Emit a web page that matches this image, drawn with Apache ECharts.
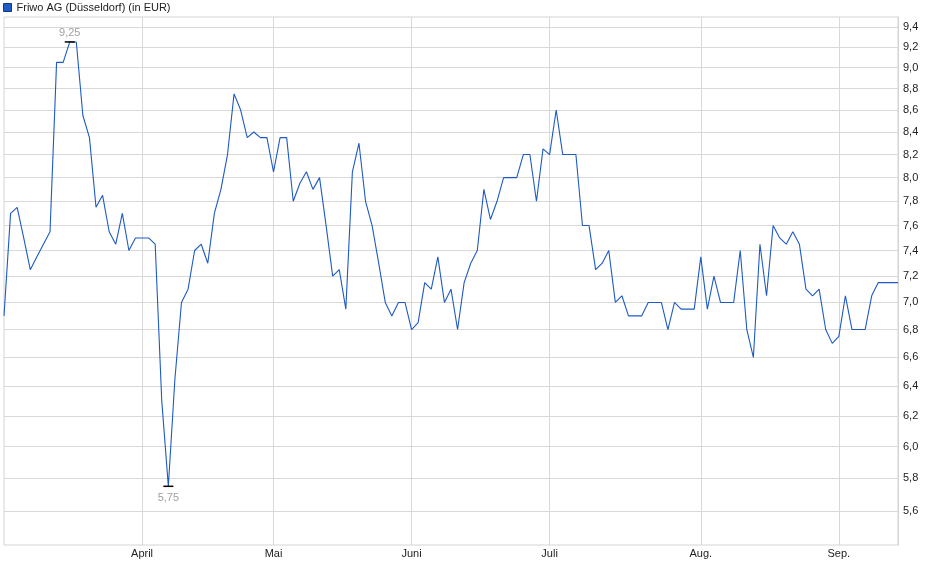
<!DOCTYPE html>
<html>
<head>
<meta charset="utf-8">
<script src="https://cdn.jsdelivr.net/npm/echarts@6/dist/echarts.min.js"></script>
<style>
html,body{margin:0;padding:0;background:#fff;}
#c{width:940px;height:579px;}
</style>
</head>
<body>
<div id="c"></div>
<script>
// Daily closing prices (trading days, 3 Mar 2025 – 12 Sep 2025)
const prices = [
  6.9, 7.7, 7.75, 7.5, 7.25, 7.35, 7.45, 7.55, 9.05, 9.05,
  9.25, 9.25, 8.55, 8.35, 7.75, 7.85, 7.55, 7.45, 7.7, 7.4,
  7.5, 7.5, 7.5, 7.45, 6.3, 5.75, 6.45, 7.0, 7.1, 7.4,
  7.45, 7.3, 7.7, 7.9, 8.2, 8.75, 8.6, 8.35, 8.4, 8.35,
  8.35, 8.05, 8.35, 8.35, 7.8, 7.95, 8.05, 7.9, 8.0, 7.6,
  7.2, 7.25, 6.95, 8.05, 8.3, 7.8, 7.6, 7.3, 7.0, 6.9,
  7.0, 7.0, 6.8, 6.85, 7.15, 7.1, 7.35, 7.0, 7.1, 6.8,
  7.15, 7.3, 7.4, 7.9, 7.65, 7.8, 8.0, 8.0, 8.0, 8.2,
  8.2, 7.8, 8.25, 8.2, 8.6, 8.2, 8.2, 8.2, 7.6, 7.6,
  7.25, 7.3, 7.4, 7.0, 7.05, 6.9, 6.9, 6.9, 7.0, 7.0,
  7.0, 6.8, 7.0, 6.95, 6.95, 6.95, 7.35, 6.95, 7.2, 7.0,
  7.0, 7.0, 7.4, 6.8, 6.6, 7.45, 7.05, 7.6, 7.5, 7.45,
  7.55, 7.45, 7.1, 7.05, 7.1, 6.8, 6.7, 6.75, 7.05, 6.8,
  6.8, 6.8, 7.05, 7.15, 7.15, 7.15, 7.15
];
const startDate = '2025-03-03';
const holidays = ['2025-04-18', '2025-04-21', '2025-05-01'];
const monthNames = ['Jan.', 'Feb.', 'März', 'April', 'Mai', 'Juni', 'Juli', 'Aug.', 'Sep.', 'Okt.', 'Nov.', 'Dez.'];
const yTicks = [5.6, 5.8, 6.0, 6.2, 6.4, 6.6, 6.8, 7.0, 7.2, 7.4, 7.6, 7.8, 8.0, 8.2, 8.4, 8.6, 8.8, 9.0, 9.2, 9.4];
const seriesName = 'Friwo AG (Düsseldorf) (in EUR)';

// Build trading-day categories
function pad(n){return (n<10?'0':'')+n;}
const dates = [];
{
  const d = new Date(startDate + 'T12:00:00Z');
  while (dates.length < prices.length) {
    const s = d.getUTCFullYear() + '-' + pad(d.getUTCMonth()+1) + '-' + pad(d.getUTCDate());
    const wd = d.getUTCDay();
    if (wd !== 0 && wd !== 6 && holidays.indexOf(s) < 0) dates.push(s);
    d.setUTCDate(d.getUTCDate() + 1);
  }
}
const monthStart = {};
for (let i = 1; i < dates.length; i++) {
  if (dates[i].slice(5,7) !== dates[i-1].slice(5,7)) monthStart[i] = true;
}
const fmt = v => (Math.round(v*100)/100).toString().replace('.', ',');
const fmt1 = v => v.toFixed(1).replace('.', ',');
const FONT = 'Liberation Sans, Arial, sans-serif';

const chart = echarts.init(document.getElementById('c'), null, {renderer: 'canvas'});
chart.setOption({
  animation: false,
  textStyle: {fontFamily: FONT},
  legend: {
    show: true,
    left: 3, top: 2,
    padding: 0,
    icon: 'rect',
    itemWidth: 8, itemHeight: 8,
    textStyle: {fontSize: 11, color: '#222', fontFamily: FONT},
    itemStyle: {color: '#1f5bc6', borderColor: '#123a80', borderWidth: 1},
    selectedMode: false,
    data: [seriesName]
  },
  grid: {
    left: 4, right: 42, top: 17, bottom: 34,
    show: true, borderColor: '#d4d4d4', borderWidth: 1, backgroundColor: '#fff'
  },
  xAxis: {
    type: 'category',
    data: dates,
    boundaryGap: false,
    axisLine: {show: false},
    axisTick: {show: false},
    axisLabel: {
      interval: (idx) => !!monthStart[idx],
      formatter: (v) => monthNames[parseInt(v.slice(5,7),10)-1],
      color: '#222', fontSize: 11, margin: 3,
      fontFamily: FONT
    },
    splitLine: {
      show: true,
      interval: (idx) => !!monthStart[idx],
      lineStyle: {color: '#d9d9d9', width: 1}
    }
  },
  yAxis: {
    type: 'log',
    logBase: 10,
    min: 5.4, max: 9.5,
    position: 'right',
    axisLine: {show: true, lineStyle: {color: '#d4d4d4'}},
    axisTick: {show: false},
    axisLabel: {show: false},
    splitLine: {show: false}
  },
  series: [{
    name: seriesName,
    type: 'line',
    data: prices,
    z: 3,
    symbol: 'none',
    showSymbol: false,
    lineStyle: {color: '#1d5ac4', width: 1.1},
    itemStyle: {color: '#1f5bc6'},
    markLine: {
      silent: true,
      z: 1,
      symbol: 'none',
      animation: false,
      lineStyle: {color: '#d9d9d9', type: 'solid', width: 1},
      label: {
        show: true, position: 'end', distance: 5,
        color: '#222', fontSize: 11,
        fontFamily: FONT,
        formatter: p => fmt1(p.value)
      },
      emphasis: {disabled: true},
      data: yTicks.map(v => ({yAxis: v}))
    },
    markPoint: {
      silent: true,
      animation: false,
      symbol: 'rect',
      symbolSize: [10, 1.5],
      itemStyle: {color: '#000'},
      label: {
        show: true, color: '#a0a0a0', fontSize: 11,
        fontFamily: FONT,
        formatter: p => fmt(p.value)
      },
      data: [
        {type: 'max', label: {position: 'top', distance: 3}},
        {type: 'min', label: {position: 'bottom', distance: 5}}
      ]
    }
  }]
});
</script>
</body>
</html>
